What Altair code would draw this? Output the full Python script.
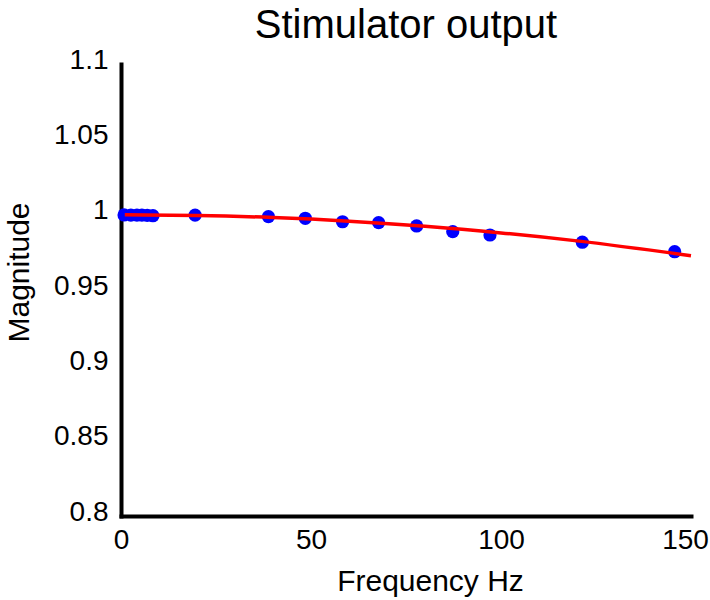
import altair as alt
import pandas as pd

# measured points (frequency in Hz, magnitude)
freq_pts = [0.8, 2.6, 4.2, 5.5, 6.9, 8.4, 19.5, 38.8, 48.5, 58.3, 67.8, 77.8, 87.3, 97.1, 121.4, 145.7]
mag_pts = [0.9998, 0.9997, 0.9997, 0.9997, 0.9996, 0.9993, 0.9997, 0.9987, 0.9976, 0.9953,
           0.9947, 0.9925, 0.9887, 0.9865, 0.9817, 0.9754]

# fitted curve
freq_fit = [1, 20, 40, 60, 80, 100, 120, 150]
mag_fit = [0.9999, 0.9995, 0.9981, 0.9957, 0.9923, 0.9879, 0.9826, 0.9728]

x_ticks = [0, 50, 100, 150]
y_ticks = [0.8, 0.85, 0.9, 0.95, 1.0, 1.05, 1.1]

pts = pd.DataFrame({"f": freq_pts, "m": mag_pts})
fit = pd.DataFrame({"f": freq_fit, "m": mag_fit})

FONT = "Liberation Sans"

xscale = alt.Scale(domain=[0, 150], nice=False, zero=False)
yscale = alt.Scale(domain=[0.8, 1.1], nice=False, zero=False)

xaxis = alt.Axis(values=x_ticks, format="d", title="Frequency Hz",
                 titleX=309, titleY=74, titleAlign="center", titleBaseline="alphabetic",
                 labelPadding=10, labelFlush=False,
                 labelOffset={"condition": {"test": "datum.value === 150", "value": -6}, "value": 0})
yaxis = alt.Axis(values=y_ticks, format=".2~f", title="Magnitude",
                 titleX=-93, titleY=208, titleAlign="center", titleBaseline="alphabetic",
                 titleAngle=270, labelPadding=13, labelOffset=-4, labelFlush=False)

points = alt.Chart(pts).mark_circle(size=175, color="#0000FF", opacity=1).encode(
    x=alt.X("f:Q", scale=xscale, axis=xaxis),
    y=alt.Y("m:Q", scale=yscale, axis=yaxis),
)

line = alt.Chart(fit).mark_line(color="#FF0000", strokeWidth=3.5, interpolate="monotone").encode(
    x=alt.X("f:Q", scale=xscale),
    y=alt.Y("m:Q", scale=yscale),
)

chart = alt.layer(points, line).properties(
    width=570,
    height=452,
    title=alt.TitleParams("Stimulator output", fontSize=40, font=FONT, fontWeight="normal",
                          color="black", anchor="middle", offset=0),
    autosize=alt.AutoSizeParams(type="none"),
    padding={"left": 121, "top": 64, "right": 19, "bottom": 84},
).configure_view(stroke=None).configure_axis(
    domainColor="black", domainWidth=4, ticks=False, grid=False,
    labelFont=FONT, titleFont=FONT, labelFontSize=28, titleFontSize=30,
    labelColor="black", titleColor="black", titleFontWeight="normal",
    domainCap="square", zindex=1,
)

chart.save("out.html", embed_options={"renderer": "svg", "actions": False})
